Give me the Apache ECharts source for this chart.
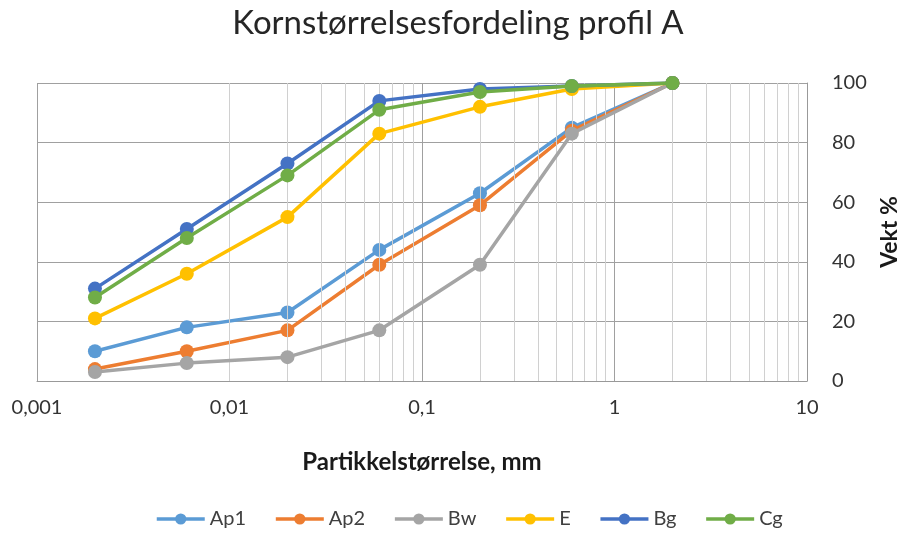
<!DOCTYPE html>
<html><head><meta charset="utf-8">
<script src="https://cdn.jsdelivr.net/npm/echarts@6/dist/echarts.min.js"></script>
<style>html,body{margin:0;padding:0;background:#fff}#c{width:898px;height:534px}</style>
</head><body><div id="c"></div>
<script>
const sizes = [0.002, 0.006, 0.02, 0.06, 0.2, 0.6, 2];
const seriesNames = ['Ap1', 'Ap2', 'Bw', 'E', 'Bg', 'Cg'];
const Ap1 = [10, 18, 23, 44, 63, 85, 100];
const Ap2 = [4, 10, 17, 39, 59, 84, 100];
const Bw = [3, 6, 8, 17, 39, 83, 100];
const E = [21, 36, 55, 83, 92, 98, 100];
const Bg = [31, 51, 73, 94, 98, 99, 100];
const Cg = [28, 48, 69, 91, 97, 99, 100];
const colors = ['#5b9bd5', '#ed7d31', '#a5a5a5', '#ffc000', '#4472c4', '#70ad47'];
const minorGrid = [];
[0.001, 0.01, 0.1, 1].forEach(d => { for (let k = 2; k <= 9; k++) minorGrid.push(parseFloat((d * k).toPrecision(6))); });

const dataSets = [Ap1, Ap2, Bw, E, Bg, Cg];
const FONT = 'Lato';
const series = seriesNames.map((n, i) => ({
  name: n, type: 'line', data: sizes.map((s, j) => [s, dataSets[i][j]]),
  symbol: 'circle', symbolSize: 14, lineStyle: { width: 3.5, color: colors[i] },
  itemStyle: { color: colors[i] }, z: 3 + i
}));
series.push({
  name: 'minor', type: 'line', data: [], silent: true, z: 1,
  markLine: { silent: true, symbol: 'none', label: { show: false },
    lineStyle: { color: '#d0d0d0', type: 'solid', width: 1 },
    data: minorGrid.map(v => ({ xAxis: v })) , animation: false }
});
const chart = echarts.init(document.getElementById('c'));
chart.setOption({
  animation: false,
  color: colors,
  textStyle: { fontFamily: FONT },
  title: { text: 'Kornstørrelsesfordeling profil A', left: 453, top: 2, textAlign: 'center',
    textStyle: { fontFamily: FONT, fontSize: 33, fontWeight: 'normal', color: '#262626' } },
  grid: { left: 37, right: 91, top: 83, bottom: 153, outerBoundsMode: 'none', containLabel: false },
  legend: { data: seriesNames, bottom: 0, left: 150, itemWidth: 48, itemHeight: 14, itemGap: 28,
    lineStyle: { width: 3.5 },
    textStyle: { fontFamily: FONT, fontSize: 20, color: '#404040' } },
  xAxis: { type: 'log', min: 0.001, max: 10, logBase: 10,
    name: 'Partikkelstørrelse, mm', nameLocation: 'middle', nameGap: 69,
    nameTextStyle: { fontFamily: FONT, fontSize: 24, fontWeight: 'bold', color: '#1a1a1a' },
    axisLine: { show: true, lineStyle: { color: '#999', width: 1 } }, axisTick: { show: false },
    axisLabel: { fontFamily: FONT, fontSize: 20, color: '#333', margin: 17,
      formatter: v => String(parseFloat(Number(v).toPrecision(6))).replace('.', ',') },
    splitLine: { show: true, lineStyle: { color: '#a0a0a0', width: 1 } } },
  yAxis: { type: 'value', position: 'right', min: 0, max: 100, interval: 20,
    name: 'Vekt %', nameLocation: 'middle', nameGap: 60, nameRotate: 90,
    nameTextStyle: { fontFamily: FONT, fontSize: 23, fontWeight: 'bold', color: '#1a1a1a' },
    axisLine: { show: true, lineStyle: { color: '#999' } }, axisTick: { show: false },
    axisLabel: { fontFamily: FONT, fontSize: 20, color: '#333', margin: 25 },
    splitLine: { show: true, lineStyle: { color: '#a0a0a0', width: 1 } } },
  series: series
});
</script></body></html>
